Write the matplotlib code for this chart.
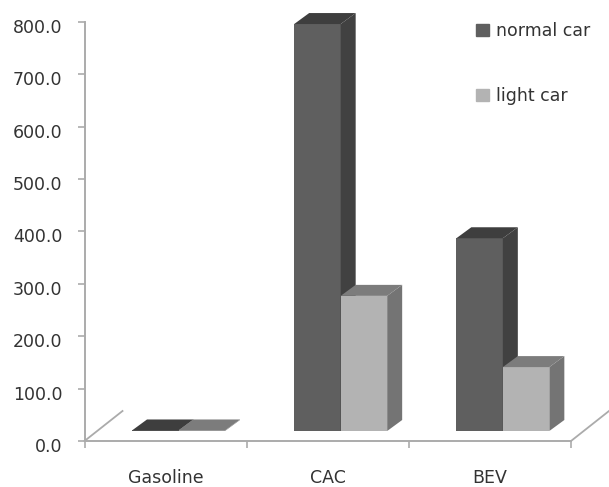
#!/usr/bin/env python
"""Grouped pseudo-3D bars: normal car vs light car by powertrain."""

import numpy as np
import matplotlib
matplotlib.use("Agg")
import matplotlib.pyplot as plt
from matplotlib.patches import Patch
from matplotlib.transforms import ScaledTranslation

categories = ["Gasoline", "CAC", "BEV"]
normal_car = [1.0, 777.0, 368.0]
light_car = [1.0, 258.0, 122.0]
y_ticks = [0, 100, 200, 300, 400, 500, 600, 700, 800]

W, H = 609, 487
TEXT = "#333333"
AXIS = "#ababab"

# front, side, top shades
NORMAL = ("#5f5f5f", "#414141", "#3e3e3e")
LIGHT = ("#b3b3b3", "#747474", "#7c7c7c")

fig = plt.figure(figsize=(W / 100, H / 100), dpi=100)
ax = fig.add_axes([84.5 / W, 1 - 441 / H, (571 - 84.5) / W, (441 - 22) / H])
ax.set_xlim(0, 3)
ax.set_ylim(0, 800)

# pixel sizes turned into data units
px_x = 3 / (571 - 84.5)
px_y = 800 / (441 - 22)
base = 10 * px_y
dx, dy = 15 * px_x, 11 * px_y
bar_w = 46.5 * px_x
first = 47.5 * px_x

# floor edges going back from the front corners
for corner in (0, 3):
    ax.plot([corner, corner + 38 * px_x], [0, 30 * px_y], color=AXIS, lw=1.3, clip_on=False)


def draw_bar(left, value, shades):
    front, side, top = shades
    ax.bar(left, value, bar_w, bottom=base, align="edge", color=front, lw=0, zorder=3)
    r = left + bar_w
    t = base + value
    ax.fill([r, r + dx, r + dx, r], [base, base + dy, t + dy, t], color=side, lw=0, zorder=3, clip_on=False)
    ax.fill([left, left + dx, r + dx, r], [t, t + dy, t + dy, t], color=top, lw=0, zorder=3, clip_on=False)


for i in range(len(categories)):
    draw_bar(i + first, normal_car[i], NORMAL)
    draw_bar(i + first + bar_w, light_car[i], LIGHT)

ax.spines["top"].set_visible(False)
ax.spines["right"].set_visible(False)
for s in ("left", "bottom"):
    ax.spines[s].set_color(AXIS)
    ax.spines[s].set_linewidth(1.4)

ax.set_yticks(y_ticks)
ax.set_yticklabels([f"{v:.1f}" for v in y_ticks], fontsize=12.5, color=TEXT)
ax.tick_params(axis="y", length=5, width=1.2, color=AXIS, pad=11)
# labels sit a little below their ticks
shift = ScaledTranslation(0, -4 / 100, fig.dpi_scale_trans)
for lab in ax.get_yticklabels():
    lab.set_transform(lab.get_transform() + shift)

ax.set_xticks(np.arange(4))
ax.set_xticklabels([])
ax.tick_params(axis="x", which="major", length=5, width=1.2, color=AXIS)
ax.set_xticks(np.arange(3) + 0.5, minor=True)
ax.set_xticklabels(categories, minor=True, fontsize=12.5, color=TEXT)
ax.tick_params(axis="x", which="minor", length=0, pad=20)

handles = [Patch(color=NORMAL[0], label="normal car"), Patch(color=LIGHT[0], label="light car")]
fig.legend(handles=handles, loc="upper left", bbox_to_anchor=(473 / W, 1 - 19 / H), frameon=False,
           fontsize=12.5, labelcolor=TEXT, handlelength=0.7, handleheight=0.7,
           handletextpad=0.45, labelspacing=2.7, borderpad=0.2, borderaxespad=0)

fig.savefig("out.png", dpi=100)
